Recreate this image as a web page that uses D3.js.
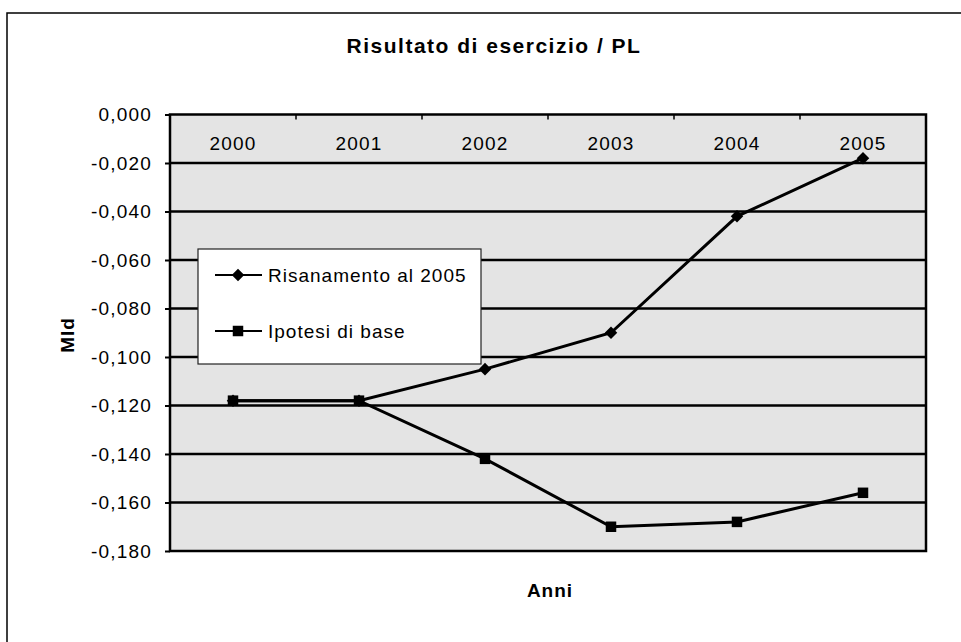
<!DOCTYPE html>
<html>
<head>
<meta charset="utf-8">
<script src="https://cdn.jsdelivr.net/npm/d3@7/dist/d3.min.js"></script>
<style>
  html, body { margin: 0; padding: 0; background: #fff; }
  svg { display: block; }
  text { font-family: "Liberation Sans", Arial, sans-serif; fill: #000; }
</style>
</head>
<body>
<svg id="chart" width="961" height="642"></svg>
<script>
// ---- data ----
const years = ["2000", "2001", "2002", "2003", "2004", "2005"];
const risanamento = [-0.118, -0.118, -0.105, -0.090, -0.042, -0.018];
const ipotesi = [-0.118, -0.118, -0.142, -0.170, -0.168, -0.156];
const yTicks = [0, -0.02, -0.04, -0.06, -0.08, -0.10, -0.12, -0.14, -0.16, -0.18];
const seriesNames = ["Risanamento al 2005", "Ipotesi di base"];
const title = "Risultato di esercizio / PL";
const xTitle = "Anni";
const yTitle = "Mld";

// ---- layout ----
const svg = d3.select("#chart");
const plot = { left: 170, right: 926, top: 114.5, bottom: 551 };

const locale = d3.formatLocale({ decimal: ",", thousands: ".", grouping: [3], currency: ["€", ""], minus: "-" });
const fmt = locale.format(".3f");

const x = d3.scaleBand().domain(years).range([plot.left, plot.right]).paddingInner(0).paddingOuter(0);
const y = d3.scaleLinear().domain([-0.18, 0]).range([plot.bottom, plot.top]);
const cx = d => x(d) + x.bandwidth() / 2;

// outer frame (top and left edges visible)
svg.append("rect")
  .attr("x", 7).attr("y", 13).attr("width", 980).attr("height", 660)
  .attr("fill", "#fff").attr("stroke", "#000").attr("stroke-width", 1.5);

// title
svg.append("text").attr("x", 494).attr("y", 53)
  .attr("text-anchor", "middle").attr("font-size", 21).attr("font-weight", "bold")
  .attr("letter-spacing", 1.5)
  .text(title);

// plot background
svg.append("rect")
  .attr("x", plot.left).attr("y", plot.top)
  .attr("width", plot.right - plot.left).attr("height", plot.bottom - plot.top)
  .attr("fill", "#e4e4e4");

// horizontal gridlines
svg.append("g").selectAll("line").data(yTicks.filter(v => v !== 0 && v !== -0.18)).join("line")
  .attr("x1", plot.left).attr("x2", plot.right)
  .attr("y1", d => y(d)).attr("y2", d => y(d))
  .attr("stroke", "#000").attr("stroke-width", 2.5);

// y axis
const yAxis = d3.axisLeft(y).tickValues(yTicks).tickFormat(fmt).tickSize(5).tickPadding(13);
const gy = svg.append("g").attr("transform", `translate(${plot.left},0)`).call(yAxis);
gy.select(".domain").remove();
gy.selectAll(".tick line").attr("stroke", "#000").attr("stroke-width", 2);
gy.selectAll(".tick text").attr("font-size", 19).attr("letter-spacing", 1.2)
  .attr("font-family", "Liberation Sans, Arial, sans-serif").attr("fill", "#000");

// x axis at y = 0 (top), labels inside plot
const xAxis = d3.axisBottom(x).tickSize(0).tickPadding(22);
const gx = svg.append("g").attr("transform", `translate(0,${y(0)})`).call(xAxis);
gx.select(".domain").remove();
gx.selectAll(".tick text").attr("font-size", 19).attr("letter-spacing", 1.2)
  .attr("font-family", "Liberation Sans, Arial, sans-serif").attr("fill", "#000");
// category separators as small ticks
svg.append("g").selectAll("line").data(years.slice(1)).join("line")
  .attr("x1", d => x(d)).attr("x2", d => x(d))
  .attr("y1", y(0)).attr("y2", y(0) + 5)
  .attr("stroke", "#000").attr("stroke-width", 1.5);

// plot border
svg.append("rect")
  .attr("x", plot.left).attr("y", plot.top)
  .attr("width", plot.right - plot.left).attr("height", plot.bottom - plot.top)
  .attr("fill", "none").attr("stroke", "#000").attr("stroke-width", 2.5);

// lines
const line = d3.line().x((d, i) => cx(years[i])).y(d => y(d));
const seriesData = [risanamento, ipotesi];
svg.append("g").selectAll("path").data(seriesData).join("path")
  .attr("d", d => line(d)).attr("fill", "none")
  .attr("stroke", "#000").attr("stroke-width", 3);

// markers
const diamond = d3.symbol().type(d3.symbolDiamond2).size(100);
const square = d3.symbol().type(d3.symbolSquare).size(110);
svg.append("g").selectAll("path").data(risanamento).join("path")
  .attr("transform", (d, i) => `translate(${cx(years[i])},${y(d)})`)
  .attr("d", diamond).attr("fill", "#000");
svg.append("g").selectAll("path").data(ipotesi).join("path")
  .attr("transform", (d, i) => `translate(${cx(years[i])},${y(d)})`)
  .attr("d", square).attr("fill", "#000");

// axis titles
svg.append("text").attr("x", 550).attr("y", 597)
  .attr("text-anchor", "middle").attr("font-size", 19).attr("font-weight", "bold")
  .attr("letter-spacing", 1)
  .text(xTitle);
svg.append("text").attr("transform", "translate(74,335) rotate(-90)")
  .attr("text-anchor", "middle").attr("font-size", 19).attr("font-weight", "bold")
  .attr("letter-spacing", 1)
  .text(yTitle);

// legend
const lg = svg.append("g");
lg.append("rect").attr("x", 198).attr("y", 249).attr("width", 283).attr("height", 115)
  .attr("fill", "#fff").attr("stroke", "#222").attr("stroke-width", 1.2);
const legendSymbols = [diamond, square];
seriesNames.forEach((name, i) => {
  const ly = 275 + i * 56;
  lg.append("line").attr("x1", 215).attr("x2", 262).attr("y1", ly).attr("y2", ly)
    .attr("stroke", "#000").attr("stroke-width", 2);
  lg.append("path").attr("transform", `translate(238,${ly})`)
    .attr("d", legendSymbols[i]).attr("fill", "#000");
  lg.append("text").attr("x", 268).attr("y", ly + 7)
    .attr("font-size", 19).attr("letter-spacing", 1.0).text(name);
});
</script>
</body>
</html>
